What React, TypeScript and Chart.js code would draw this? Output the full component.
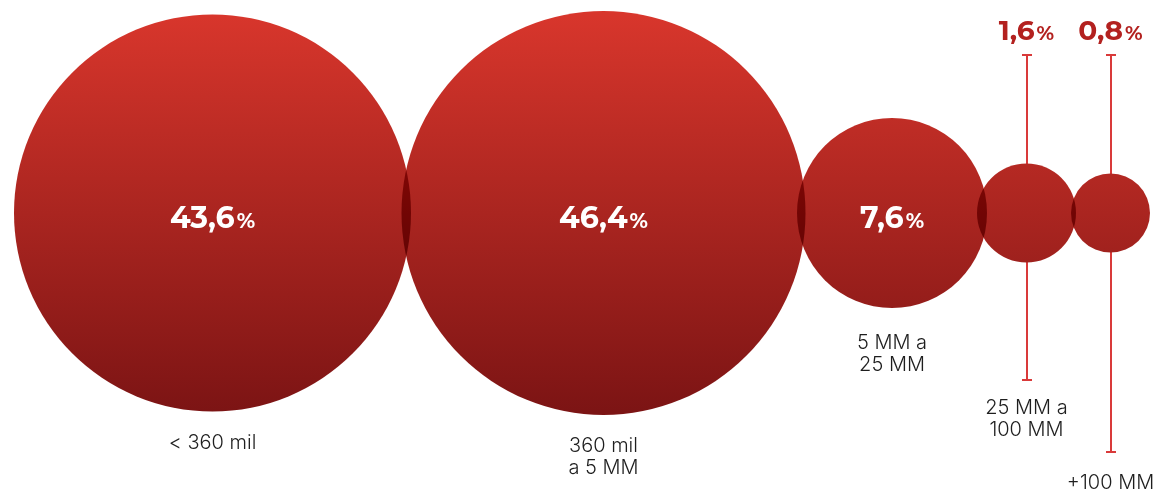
import React, { useEffect, useRef } from "react";
import { Chart, registerables } from "chart.js";

Chart.register(...registerables);

const categories = ["< 360 mil", "360 mil\na 5 MM", "5 MM a\n25 MM", "25 MM a\n100 MM", "+100 MM"];
const shares = [43.6, 46.4, 7.6, 1.6, 0.8];
const positionsX = [212.5, 603.5, 892, 1026.5, 1110.5];
const positionY = 213;
const bubbleRadius = [198.5, 202, 95, 49.5, 39.5];
const labelOutside = [false, false, false, true, true];
const categoryLabelY = [443, 446, 343, 408, 483];
const leaderTop = [null, null, null, 55, 55];
const leaderBottom = [null, null, null, 380, 452];

const fmt = (v: number) => v.toFixed(1).replace(".", ",");

export default function App() {
  const ref = useRef<HTMLCanvasElement | null>(null);

  useEffect(() => {
    document.body.style.margin = "0";
    const canvas = ref.current!;
    let grad: CanvasGradient | null = null;

    const overlayPlugin = {
      id: "overlay",
      beforeDatasetsDraw(chart: any) {
        chart.ctx.save();
        chart.ctx.globalCompositeOperation = "multiply";
      },
      afterDatasetsDraw(chart: any) {
        const ctx = chart.ctx;
        ctx.restore();
        const xs = chart.scales.x;
        const ys = chart.scales.y;
        // leader lines behind bubbles
        ctx.save();
        ctx.globalCompositeOperation = "destination-over";
        ctx.strokeStyle = "#d93a3a";
        ctx.lineWidth = 2;
        shares.forEach((_, i) => {
          const t = leaderTop[i];
          const b = leaderBottom[i];
          if (t == null || b == null) return;
          const px = Math.round(xs.getPixelForValue(positionsX[i]));
          const pt = ys.getPixelForValue(t);
          const pb = ys.getPixelForValue(b);
          ctx.beginPath();
          ctx.moveTo(px, pt);
          ctx.lineTo(px, pb);
          ctx.moveTo(px - 5, pt);
          ctx.lineTo(px + 5, pt);
          ctx.moveTo(px - 5, pb);
          ctx.lineTo(px + 5, pb);
          ctx.stroke();
        });
        ctx.restore();

        ctx.save();
        ctx.textBaseline = "alphabetic";
        shares.forEach((v, i) => {
          const px = xs.getPixelForValue(positionsX[i]);
          const num = fmt(v);
          const outside = labelOutside[i];
          const bigFont = `700 ${outside ? 28 : 30}px Montserrat, Inter, 'Open Sans', sans-serif`;
          const smallFont = `700 ${outside ? 20 : 21}px Montserrat, Inter, 'Open Sans', sans-serif`;
          ctx.font = bigFont;
          const w1 = ctx.measureText(num).width;
          ctx.font = smallFont;
          const w2 = ctx.measureText("%").width;
          const total = w1 + 2 + w2;
          let baseY: number;
          if (outside) {
            ctx.fillStyle = "#b3211f";
            baseY = ys.getPixelForValue(40);
          } else {
            ctx.fillStyle = "#ffffff";
            baseY = ys.getPixelForValue(positionY + 15);
          }
          ctx.textAlign = "left";
          ctx.font = bigFont;
          ctx.fillText(num, px - total / 2, baseY);
          ctx.font = smallFont;
          ctx.fillText("%", px - total / 2 + w1 + 2, baseY);

          // category
          ctx.fillStyle = "#1e1e1e";
          ctx.font = "300 20px Inter, 'Noto Sans', sans-serif";
          ctx.textAlign = "center";
          ctx.textBaseline = "middle";
          const lines = categories[i].split("\n");
          lines.forEach((ln, k) => {
            ctx.fillText(ln, px, ys.getPixelForValue(categoryLabelY[i] + k * 22));
          });
          ctx.textBaseline = "alphabetic";
        });
        ctx.restore();
      },
    };

    const chart = new Chart(canvas, {
      type: "bubble",
      data: {
        labels: categories,
        datasets: [
          {
            data: shares.map((v, i) => ({ x: positionsX[i], y: positionY, r: bubbleRadius[i], v })),
            backgroundColor: (c: any) => {
              const { ctx, chartArea } = c.chart;
              if (!chartArea) return "#b02424";
              const ys = c.chart.scales.y;
              if (!grad) {
                grad = ctx.createLinearGradient(0, ys.getPixelForValue(14), 0, ys.getPixelForValue(412));
                grad!.addColorStop(0, "#d8362c");
                grad!.addColorStop(1, "#7c1414");
              }
              return grad;
            },
            borderWidth: 0,
            hoverRadius: 0,
            clip: false,
          } as any,
        ],
      },
      options: {
        animation: false,
        responsive: false,
        devicePixelRatio: 1,
        layout: { padding: 0, autoPadding: false },
        plugins: { legend: { display: false }, tooltip: { enabled: false } },
        events: [],
        scales: {
          x: { type: "linear", min: 0, max: 1156, display: false },
          y: { type: "linear", min: 0, max: 492, reverse: true, display: false },
        },
      },
      plugins: [overlayPlugin],
    });
    return () => chart.destroy();
  }, []);

  return (
    <div style={{ position: "absolute", left: 0, top: 0, width: 1156, height: 492 }}>
      <canvas ref={ref} width={1156} height={492} style={{ display: "block", width: 1156, height: 492 }} />
    </div>
  );
}
